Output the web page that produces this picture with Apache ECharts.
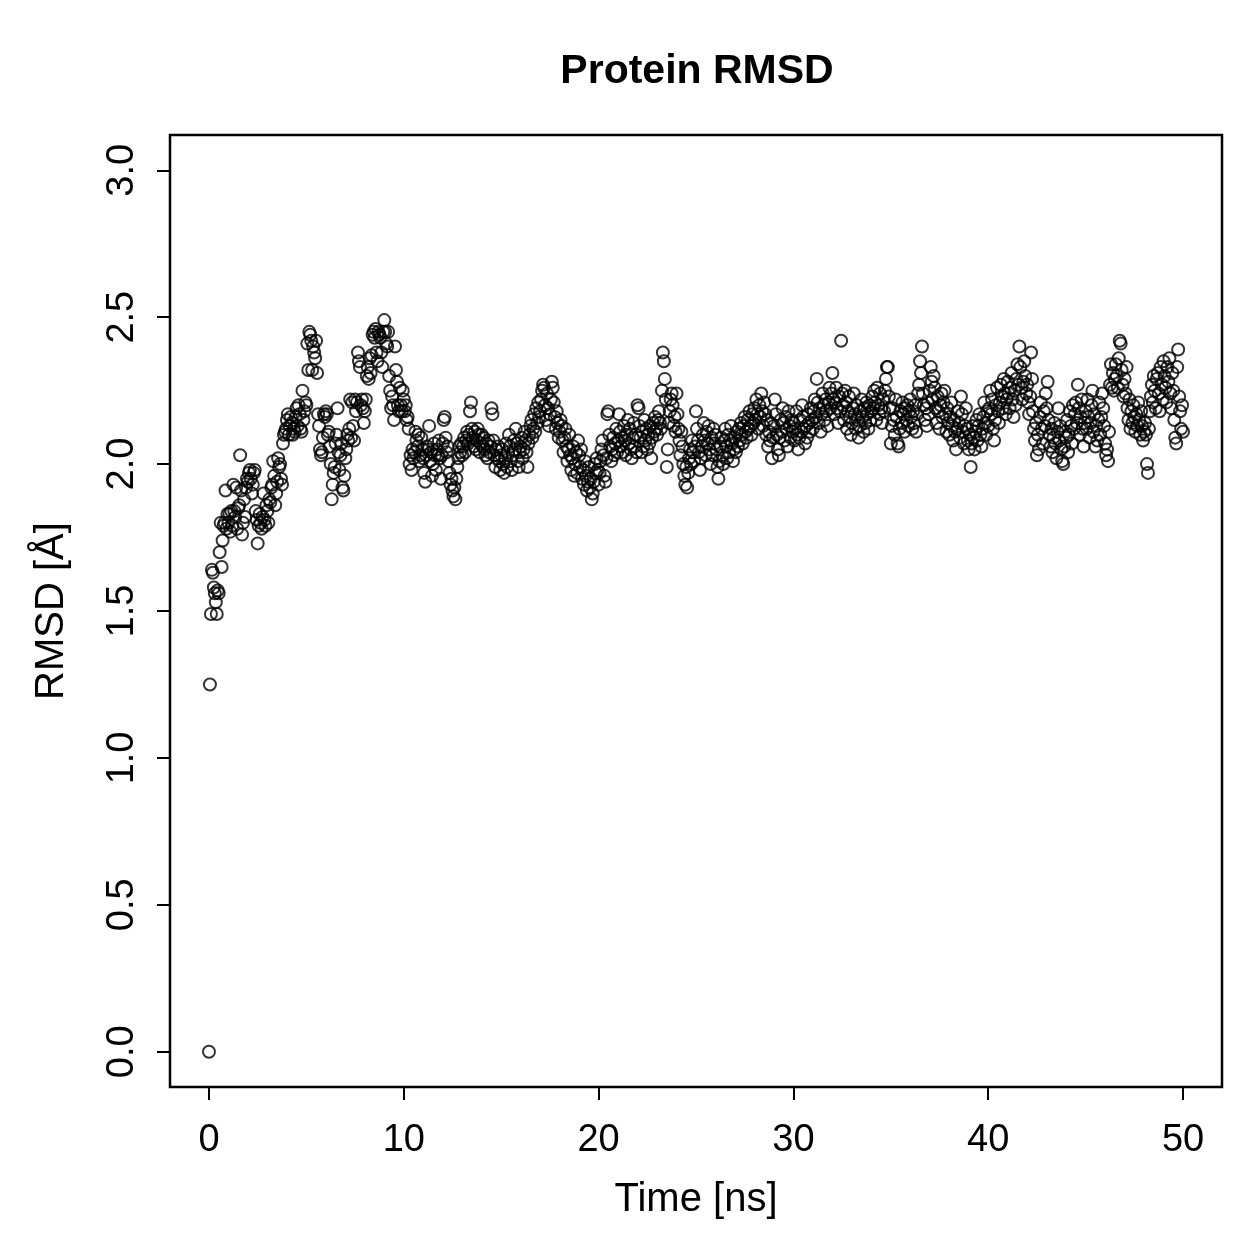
<!DOCTYPE html>
<html>
<head>
<meta charset="utf-8">
<title>Protein RMSD</title>
<style>
  html, body { margin: 0; padding: 0; background: #fff; }
  #main { width: 1259px; height: 1259px; }
</style>
</head>
<body>
<div id="main"></div>
<script src="https://cdn.jsdelivr.net/npm/echarts@6/dist/echarts.min.js"></script>
<script>
// RMSD in Angstrom, one value every 0.05 ns (20 values per row = 1 ns)
var rmsd00 = [
  0.00,1.25,1.49,1.64,1.63,1.58,1.56,1.53,1.49,1.57,1.56,1.70,1.80,1.65,1.74,1.79,1.80,1.91,1.78,1.83,
  1.80,1.83,1.77,1.84,1.79,1.93,1.84,1.82,1.92,1.78,1.85,1.86,2.03,1.91,1.76,1.80,1.88,1.82,1.92,1.95,
  1.94,1.97,1.98,1.95,1.90,1.93,1.97,1.98,1.84,1.81,1.73,1.79,1.83,1.80,1.78,1.82,1.90,1.81,1.79,1.86,
  1.84,1.80,1.88,1.87,1.92,1.93,2.01,1.96,1.86,1.90,1.94,2.02,1.99,2.00,1.95,1.93,2.07,2.10,2.11,2.12,
  2.15,2.17,2.10,2.13,2.16,2.14,2.10,2.12,2.11,2.16,2.19,2.13,2.20,2.17,2.12,2.11,2.25,2.15,2.18,2.21,
  2.20,2.41,2.32,2.45,2.44,2.42,2.32,2.40,2.38,2.36,2.42,2.31,2.17,2.13,2.05,2.03,2.04,2.09,2.17,2.16,
  2.18,2.17,2.10,2.11,2.06,2.00,1.88,1.93,1.97,1.99,2.07,2.10,2.19,2.04,1.98,2.03,2.07,1.92,1.91,1.96,
  2.02,2.05,2.10,2.08,2.12,2.22,2.09,2.21,2.13,2.08,2.22,2.18,2.21,2.38,2.35,2.33,2.20,2.22,2.19,2.14,
  2.18,2.22,2.30,2.33,2.29,2.36,2.31,2.37,2.44,2.45,2.43,2.46,2.38,2.35,2.45,2.44,2.43,2.38,2.33,2.45,
  2.49,2.45,2.41,2.40,2.45,2.30,2.25,2.19,2.23,2.20,2.15,2.40,2.32,2.28,2.20,2.18,2.26,2.20,2.18,2.25
];
var rmsd10 = [
  2.22,2.18,2.20,2.15,2.16,2.12,2.00,2.03,1.98,2.05,2.02,2.04,2.11,2.08,2.06,2.10,2.01,2.03,2.09,2.05,
  2.02,1.97,1.94,2.03,2.06,2.05,2.13,2.01,2.04,1.96,2.00,2.07,2.03,1.98,2.05,2.03,2.08,2.02,1.95,2.03,
  2.07,2.15,2.16,2.09,2.04,2.06,2.01,1.97,1.93,1.95,1.91,1.89,1.92,1.88,1.95,1.99,2.02,2.06,2.04,2.07,
  2.03,2.06,2.09,2.04,2.08,2.11,2.07,2.10,2.18,2.21,2.12,2.09,2.06,2.11,2.05,2.08,2.12,2.10,2.04,2.07,
  2.10,2.06,2.09,2.05,2.03,2.07,2.02,2.08,2.04,2.06,2.19,2.17,2.08,2.03,1.99,2.05,2.02,2.06,2.01,1.98,
  2.03,2.05,2.00,1.97,2.02,2.07,1.99,2.04,2.10,2.06,2.01,1.98,2.03,2.08,2.05,2.12,2.07,2.01,1.99,2.04,
  2.06,2.09,2.02,2.05,2.11,2.08,2.04,1.99,2.07,2.10,2.13,2.15,2.09,2.12,2.17,2.11,2.19,2.14,2.21,2.16,
  2.18,2.22,2.25,2.27,2.26,2.20,2.15,2.24,2.19,2.13,2.17,2.22,2.28,2.26,2.21,2.16,2.12,2.18,2.14,2.09,
  2.11,2.15,2.13,2.08,2.04,2.09,2.12,2.06,2.01,2.05,2.10,2.03,1.98,2.02,2.06,1.96,2.00,2.04,1.97,2.08,
  2.03,1.99,2.05,1.95,1.98,1.93,2.01,1.96,1.91,1.94,1.99,1.92,1.95,1.88,1.90,1.94,2.00,1.97,2.02,1.98
];
var rmsd20 = [
  1.93,1.97,2.01,2.05,2.08,2.03,1.96,1.94,2.02,2.17,2.18,2.10,2.06,2.01,2.05,2.09,2.03,2.07,2.12,2.04,
  2.08,2.17,2.11,2.06,2.09,2.04,2.13,2.08,2.03,2.10,2.15,2.07,2.12,2.05,2.02,2.09,2.14,2.06,2.10,2.04,
  2.20,2.19,2.13,2.09,2.04,2.11,2.06,2.15,2.08,2.12,2.05,2.10,2.07,2.13,2.02,2.09,2.14,2.11,2.16,2.12,
  2.10,2.15,2.18,2.14,2.12,2.25,2.38,2.35,2.29,2.22,1.99,2.05,2.14,2.18,2.22,2.24,2.20,2.13,2.16,2.11,
  2.24,2.17,2.12,2.08,2.03,2.11,2.06,2.00,1.96,1.93,1.99,1.92,1.97,2.02,2.05,2.00,2.08,2.04,2.01,2.06,
  2.18,2.12,2.08,2.04,1.98,2.02,2.06,2.10,2.14,2.08,2.03,2.11,2.07,2.13,2.05,2.00,2.09,2.03,2.12,2.07,
  2.10,2.05,1.99,1.95,2.01,2.06,2.09,2.03,2.00,2.08,2.12,2.06,2.02,2.10,2.04,2.08,2.13,2.07,2.01,2.05,
  2.09,2.04,2.11,2.06,2.12,2.08,2.14,2.10,2.07,2.13,2.16,2.11,2.09,2.15,2.12,2.18,2.13,2.10,2.17,2.14,
  2.19,2.15,2.22,2.17,2.12,2.20,2.16,2.24,2.18,2.13,2.21,2.17,2.10,2.15,2.06,2.11,2.08,2.14,2.02,2.09,
  2.13,2.22,2.17,2.10,2.05,2.03,2.09,2.15,2.11,2.19,2.14,2.08,2.16,2.12,2.06,2.18,2.13,2.09,2.15,2.11
];
var rmsd30 = [
  2.14,2.08,2.12,2.18,2.10,2.05,2.09,2.15,2.11,2.20,2.16,2.12,2.07,2.13,2.09,2.17,2.14,2.11,2.19,2.15,
  2.12,2.18,2.22,2.16,2.29,2.21,2.14,2.19,2.11,2.17,2.24,2.20,2.15,2.22,2.18,2.13,2.21,2.26,2.19,2.24,
  2.31,2.22,2.17,2.21,2.26,2.19,2.14,2.23,2.18,2.42,2.24,2.20,2.15,2.25,2.21,2.12,2.18,2.23,2.16,2.10,
  2.14,2.19,2.24,2.17,2.12,2.20,2.15,2.09,2.13,2.18,2.22,2.16,2.11,2.19,2.14,2.21,2.17,2.12,2.20,2.15,
  2.18,2.23,2.19,2.25,2.21,2.15,2.26,2.20,2.17,2.24,2.19,2.14,2.22,2.18,2.25,2.29,2.33,2.33,2.23,2.19,
  2.07,2.13,2.19,2.15,2.10,2.22,2.16,2.07,2.06,2.12,2.18,2.14,2.21,2.17,2.11,2.19,2.15,2.20,2.13,2.18,
  2.22,2.16,2.12,2.18,2.14,2.20,2.11,2.17,2.24,2.27,2.35,2.31,2.40,2.24,2.20,2.15,2.19,2.13,2.21,2.17,
  2.25,2.33,2.28,2.22,2.30,2.26,2.19,2.14,2.23,2.18,2.12,2.20,2.24,2.16,2.21,2.25,2.17,2.11,2.19,2.14,
  2.10,2.16,2.21,2.13,2.08,2.15,2.11,2.05,2.12,2.18,2.14,2.09,2.23,2.17,2.11,2.07,2.13,2.19,2.12,2.08,
  2.05,2.10,1.99,2.07,2.13,2.09,2.05,2.11,2.15,2.08,2.13,2.17,2.10,2.06,2.12,2.16,2.21,2.14,2.10,2.18
];
var rmsd40 = [
  2.13,2.19,2.25,2.17,2.22,2.12,2.08,2.15,2.20,2.26,2.18,2.14,2.21,2.27,2.23,2.19,2.29,2.24,2.17,2.22,
  2.28,2.24,2.19,2.26,2.31,2.22,2.16,2.25,2.20,2.29,2.34,2.27,2.40,2.33,2.26,2.22,2.28,2.35,2.30,2.24,
  2.27,2.21,2.17,2.23,2.38,2.29,2.18,2.12,2.08,2.14,2.03,2.10,2.05,2.16,2.21,2.12,2.07,2.18,2.13,2.24,
  2.19,2.28,2.15,2.10,2.06,2.12,2.04,2.09,2.14,2.07,2.02,2.11,2.19,2.08,2.13,2.05,2.01,2.00,2.06,2.11,
  2.09,2.15,2.04,2.10,2.18,2.13,2.07,2.20,2.12,2.17,2.21,2.14,2.27,2.19,2.10,2.16,2.22,2.12,2.06,2.14,
  2.18,2.12,2.22,2.16,2.09,2.14,2.20,2.25,2.11,2.17,2.06,2.13,2.08,2.15,2.21,2.10,2.16,2.24,2.19,2.13,
  2.07,2.03,2.05,2.01,2.11,2.27,2.34,2.26,2.31,2.25,2.29,2.34,2.30,2.26,2.36,2.42,2.41,2.32,2.27,2.23,
  2.29,2.24,2.33,2.19,2.15,2.22,2.12,2.18,2.14,2.20,2.16,2.11,2.17,2.13,2.21,2.15,2.10,2.18,2.13,2.08,
  2.11,2.14,2.10,2.00,1.97,2.12,2.18,2.23,2.27,2.21,2.30,2.25,2.19,2.29,2.31,2.24,2.18,2.33,2.27,2.22,
  2.35,2.30,2.26,2.21,2.33,2.28,2.36,2.24,2.19,2.31,2.25,2.15,2.09,2.07,2.33,2.39,2.23,2.18,2.12,2.20,
  2.11
];
var timeStep = 0.05; // ns between frames
var xTicks = [0, 10, 20, 30, 40, 50];
var yTicks = [0, 0.5, 1, 1.5, 2, 2.5, 3];

var rmsd = rmsd00.concat(rmsd10, rmsd20, rmsd30, rmsd40);
var points = [];
for (var i = 0; i < rmsd.length; i++) {
  points.push([+(i * timeStep).toFixed(2), rmsd[i]]);
}

var font = 'Liberation Sans, Arial, Helvetica, sans-serif';
var chart = echarts.init(document.getElementById('main'), null, { renderer: 'canvas' });
var option = {
  animation: false,
  backgroundColor: '#fff',
  title: {
    text: 'Protein RMSD',
    left: 692,
    textAlign: 'center',
    top: 46,
    textStyle: { fontFamily: font, fontWeight: 'bold', fontSize: 41, color: '#000' }
  },
  grid: {
    left: 170, right: 37, top: 135, bottom: 172,
    show: true, borderColor: '#000', borderWidth: 2.5, backgroundColor: 'transparent'
  },
  xAxis: {
    type: 'value',
    min: -2, max: 52,
    name: 'Time [ns]',
    nameLocation: 'middle',
    nameGap: 93,
    nameTextStyle: { fontFamily: font, fontSize: 40, color: '#000' },
    splitLine: { show: false },
    axisLine: { show: false, onZero: false },
    axisTick: { show: true, inside: false, customValues: xTicks, length: 13, lineStyle: { color: '#000', width: 2 } },
    axisLabel: {
      customValues: xTicks, margin: 35,
      fontFamily: font, fontSize: 38, color: '#000'
    }
  },
  yAxis: {
    type: 'value',
    min: -0.12, max: 3.12,
    name: 'RMSD [Å]',
    nameLocation: 'middle',
    nameRotate: 90,
    nameGap: 98,
    nameTextStyle: { fontFamily: font, fontSize: 40, color: '#000' },
    splitLine: { show: false },
    axisLine: { show: false, onZero: false },
    axisTick: { show: true, inside: false, customValues: yTicks, length: 13, lineStyle: { color: '#000', width: 2 } },
    axisLabel: {
      customValues: yTicks, rotate: 90, margin: 28,
      fontFamily: font, fontSize: 38, color: '#000',
      formatter: function (v) { return v.toFixed(1); }
    }
  },
  series: [{
    type: 'scatter',
    data: points,
    symbol: 'circle',
    symbolSize: 12,
    itemStyle: { color: 'rgba(0,0,0,0)', borderColor: '#000', borderWidth: 2 },
    emphasis: { disabled: true },
    silent: true
  }]
};
chart.setOption(option);
</script>
</body>
</html>
